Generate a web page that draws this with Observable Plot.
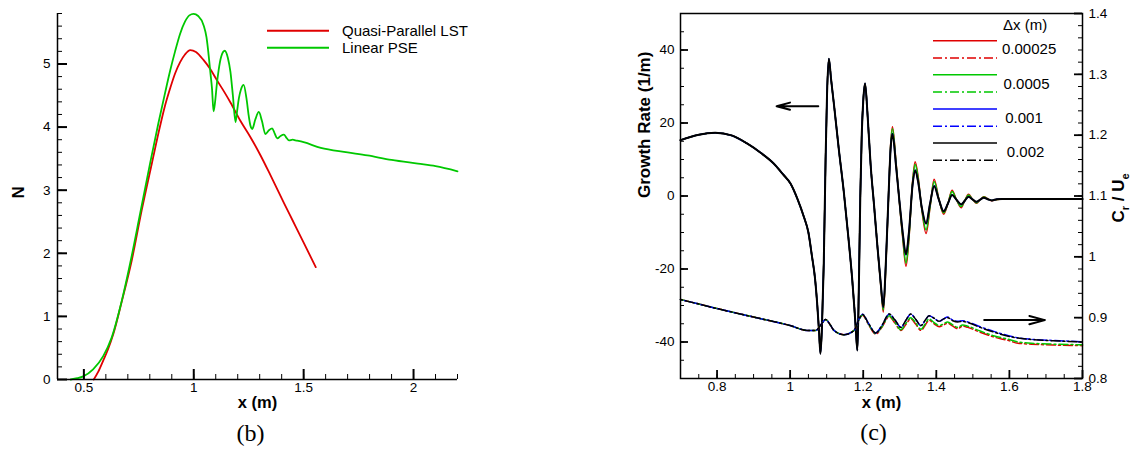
<!DOCTYPE html>
<html><head><meta charset="utf-8">
<script src="https://cdn.jsdelivr.net/npm/d3@7"></script>
<script src="https://cdn.jsdelivr.net/npm/@observablehq/plot@0.6"></script>
<style>
body{margin:0;background:#fff;}
#wrap{position:relative;width:1138px;height:453px;overflow:hidden;font-family:"Liberation Sans",Arial,Helvetica,sans-serif;}
#wrap > svg{position:absolute;top:0;}
.rot{position:absolute;white-space:nowrap;font-weight:bold;font-size:17px;transform:translate(-50%,-50%) rotate(-90deg);}
</style></head><body><div id="wrap"></div>
<script>
// ---------- Panel (b): N factor ----------
const lstX = [0.545, 0.565, 0.588, 0.61, 0.634, 0.672, 0.718, 0.763, 0.809, 0.847,
              0.87, 0.893, 0.915, 0.938, 0.96, 0.984, 1.01, 1.045, 1.075, 1.106,
              1.14, 1.167, 1.212, 1.258, 1.304, 1.35, 1.41, 1.45, 1.5, 1.555];
const lstN = [0, 0.12, 0.30, 0.48, 0.72, 1.23, 1.89, 2.68, 3.42, 4.02,
              4.35, 4.62, 4.85, 5.03, 5.15, 5.22, 5.19, 5.06, 4.92, 4.74,
              4.55, 4.39, 4.10, 3.84, 3.55, 3.23, 2.80, 2.52, 2.17, 1.78];
const pseX = [0.44, 0.47, 0.497, 0.542, 0.588, 0.626, 0.672, 0.71, 0.756, 0.801,
              0.839, 0.87, 0.893, 0.915, 0.938, 0.96, 0.98, 0.999, 1.02, 1.045,
              1.058, 1.068, 1.076, 1.083, 1.09, 1.097, 1.105, 1.113, 1.125, 1.141,
              1.155, 1.167, 1.178, 1.19, 1.197, 1.205, 1.215, 1.227, 1.24, 1.25,
              1.258, 1.266, 1.28, 1.296, 1.31, 1.326, 1.342, 1.357, 1.368, 1.38,
              1.395, 1.41, 1.422, 1.433, 1.45, 1.463, 1.5, 1.578, 1.7, 1.79,
              1.9, 2.02, 2.1, 2.2];
const pseN = [0, 0.02, 0.05, 0.16, 0.37, 0.66, 1.24, 1.83, 2.63, 3.42,
              4.06, 4.55, 4.90, 5.2, 5.48, 5.67, 5.77, 5.795, 5.76, 5.61,
              5.42, 5.13, 4.85, 4.61, 4.25, 4.40, 4.68, 4.9, 5.12, 5.21,
              5.1, 4.87, 4.5, 4.08, 4.25, 4.45, 4.6, 4.67, 4.45, 4.18,
              4.02, 3.97, 4.12, 4.24, 4.1, 3.89, 3.95, 3.98, 3.9, 3.82,
              3.86, 3.88, 3.83, 3.79, 3.8, 3.79, 3.76, 3.67, 3.6, 3.55,
              3.48, 3.42, 3.38, 3.30];
const nSeries = ["Quasi-Parallel LST", "Linear PSE"];
const nXTicks = [0.5, 1, 1.5, 2];
const nXLabels = ["0.5", "1", "1.5", "2"];
const nYTicks = [0, 1, 2, 3, 4, 5];
const nDomainX = [0.38, 2.2];
const nDomainY = [0, 5.8];

// ---------- Panel (c): growth rate and phase speed ----------
const gx = [0.70, 0.75, 0.795, 0.84, 0.882, 0.92, 0.955, 0.98, 1.001, 1.02,
            1.0375, 1.05, 1.06, 1.068, 1.074, 1.079, 1.083, 1.087, 1.092, 1.097,
            1.101, 1.106, 1.112, 1.12, 1.133, 1.147, 1.16, 1.17, 1.176, 1.18,
            1.184, 1.188, 1.192, 1.196, 1.2, 1.205, 1.212, 1.22, 1.23, 1.239,
            1.248, 1.255, 1.262, 1.27, 1.275, 1.28, 1.29, 1.298, 1.308, 1.317,
            1.325, 1.335, 1.342, 1.35, 1.36, 1.372, 1.383, 1.394, 1.407, 1.42,
            1.432, 1.443, 1.455, 1.468, 1.478, 1.488, 1.5, 1.51, 1.52, 1.53,
            1.541, 1.552, 1.565, 1.58, 1.65, 1.8];
const gBlack = [15.3, 16.8, 17.3, 16.6, 14.4, 11.8, 8.9, 6.0, 3.4, -0.8,
            -5.7, -10, -16.7, -22.5, -29.5, -37, -43.2, -36, -18.5, 10,
            28, 37.6, 32, 25, 13, 1, -12, -23, -31, -37,
            -42.3, -25, 0, 17, 26, 30.8, 22, 8.9, -3, -14,
            -24, -30.4, -18, 2, 13, 17, 8, -0.3, -10, -16,
            -10, 3, 7, 4, -3, -7.5, -2, 2.7, -1, -4.2,
            -2, 0.3, -1, -2.3, -1.3, -0.2, -1, -1.6, -1, -0.5,
            -0.9, -1.2, -0.9, -0.8, -0.8, -0.8];
const gBlue = [15.3, 16.8, 17.3, 16.6, 14.4, 11.8, 8.9, 6.0, 3.4, -0.8,
            -5.7, -10, -16.7, -22.5, -29.5, -37, -43.2, -36, -18.5, 10,
            28, 37.6, 32, 25, 13, 1, -12, -23, -31, -37,
            -42.3, -25, 0, 17, 26, 30.8, 22, 8.9, -3, -14,
            -24, -30.5, -18, 2, 13, 17.1, 8, -0.3, -10, -16.1,
            -10, 3, 7.1, 4, -3, -7.6, -2, 2.8, -1, -4.2,
            -2, 0.3, -1, -2.3, -1.3, -0.2, -1, -1.6, -1, -0.5,
            -0.9, -1.2, -0.9, -0.8, -0.8, -0.8];
const gGreen = [15.3, 16.8, 17.3, 16.6, 14.4, 11.8, 8.9, 6.0, 3.4, -0.8,
            -5.7, -10, -16.7, -22.5, -29.5, -37, -43.2, -36, -18.5, 10,
            28, 37.6, 32, 25, 13, 1, -12, -23, -31, -37,
            -42.3, -25, 0, 17, 26, 30.8, 22, 8.9, -3, -14,
            -24.3, -31.2, -18.6, 2, 13.6, 18.4, 8.7, -0.4, -11, -18.4,
            -11.5, 3.6, 8.7, 5, -3.3, -9.3, -2.8, 4.0, -0.9, -4.6,
            -2, 1.2, -1, -2.9, -1.2, 0.3, -1, -1.9, -1, -0.3,
            -0.85, -1.2, -0.95, -0.8, -0.8, -0.85];
const gRed = [15.3, 16.8, 17.3, 16.6, 14.4, 11.8, 8.9, 6.0, 3.4, -0.8,
            -5.7, -10, -16.7, -22.5, -29.5, -37, -43.2, -36, -18.5, 10,
            28, 37.6, 32, 25, 13, 1, -12, -23, -31, -37,
            -42.3, -25, 0, 17, 26, 30.8, 22, 8.9, -3, -14,
            -24.5, -31.8, -19, 2, 14, 19, 9, -0.5, -11.5, -19.3,
            -12, 4, 9.4, 5.5, -3.5, -10.3, -3, 4.6, -0.8, -5,
            -2, 1.6, -1, -3.2, -1.2, 0.5, -1, -2, -1, -0.2,
            -0.8, -1.3, -1.0, -0.8, -0.8, -0.9];
const cx = [0.70, 0.80, 0.90, 1.00, 1.047, 1.07, 1.085, 1.097, 1.11, 1.12,
            1.147, 1.175, 1.188, 1.198, 1.215, 1.234, 1.252, 1.271, 1.287, 1.303,
            1.317, 1.33, 1.344, 1.358, 1.37, 1.38, 1.394, 1.408, 1.42, 1.431,
            1.445, 1.459, 1.472, 1.486, 1.52, 1.559, 1.6, 1.623, 1.66, 1.72,
            1.8];
const crBlack = [0.930, 0.915, 0.901, 0.887, 0.879, 0.879, 0.889, 0.897, 0.888, 0.879,
            0.872, 0.879, 0.897, 0.9055, 0.89, 0.875, 0.888, 0.906, 0.896, 0.884,
            0.896, 0.906, 0.897, 0.887, 0.896, 0.903, 0.899, 0.894, 0.898, 0.900,
            0.895, 0.893, 0.894, 0.892, 0.884, 0.876, 0.869, 0.8665, 0.864, 0.862,
            0.860];
const crBlue = [0.930, 0.915, 0.901, 0.887, 0.879, 0.879, 0.889, 0.897, 0.888, 0.879,
            0.872, 0.879, 0.897, 0.9055, 0.89, 0.875, 0.888, 0.906, 0.896, 0.884,
            0.896, 0.906, 0.897, 0.887, 0.896, 0.903, 0.899, 0.894, 0.898, 0.901,
            0.896, 0.894, 0.895, 0.893, 0.885, 0.877, 0.870, 0.867, 0.8645, 0.8625,
            0.8605];
const crGreen = [0.930, 0.915, 0.901, 0.887, 0.879, 0.879, 0.889, 0.897, 0.888, 0.879,
            0.872, 0.879, 0.896, 0.9045, 0.889, 0.874, 0.886, 0.903, 0.892, 0.880,
            0.891, 0.900, 0.891, 0.881, 0.890, 0.898, 0.892, 0.887, 0.890, 0.893,
            0.888, 0.884, 0.888, 0.886, 0.878, 0.870, 0.864, 0.860, 0.858, 0.8565,
            0.8555];
const crRed = [0.930, 0.915, 0.901, 0.887, 0.879, 0.879, 0.889, 0.897, 0.888, 0.879,
            0.872, 0.879, 0.896, 0.904, 0.888, 0.873, 0.885, 0.902, 0.891, 0.879,
            0.889, 0.898, 0.889, 0.879, 0.888, 0.896, 0.890, 0.885, 0.888, 0.891,
            0.886, 0.882, 0.886, 0.884, 0.876, 0.868, 0.862, 0.858, 0.8565, 0.855,
            0.854];
const dxLabels = ["0.00025", "0.0005", "0.001", "0.002"];
const gXTicks = [0.8, 1, 1.2, 1.4, 1.6, 1.8];
const gXLabels = ["0.8", "1", "1.2", "1.4", "1.6", "1.8"];
const gYTicks = [-40, -20, 0, 20, 40];
const gYLabels = ["-40", "-20", "0", "20", "40"];
const crTicks = [0.8, 0.9, 1.0, 1.1, 1.2, 1.3, 1.4];
const crLabels = ["0.8", "0.9", "1", "1.1", "1.2", "1.3", "1.4"];
const gDomainX = [0.7, 1.8];
const gDomainY = [-50, 50];
const crDomain = [0.8, 1.4];
const arrows = [
  {x1: 1.077, y1: 24.6, x2: 0.963, y2: 24.6},
  {x1: 1.531, y1: -34.0, x2: 1.697, y2: -34.0}
];

// ---------- styles ----------
const FONT = '"Liberation Sans", Arial, Helvetica, sans-serif';
const SERIF = '"Liberation Serif", "Times New Roman", serif';
const RED = "#e00000", GREEN = "#00c800", BLUE = "#0000ff", BLACK = "#000000";
const DASH = "9,3,2,3";
const toG = cr => gDomainY[0] + (cr - crDomain[0]) / (crDomain[1] - crDomain[0]) * (gDomainY[1] - gDomainY[0]);
const lab = (ticks, labels) => v => labels[ticks.findIndex(t => Math.abs(t - v) < 1e-6)];

const wrap = document.getElementById("wrap");

// ---------- Legends (drawn first, underneath the plots) ----------
const ov = d3.select(wrap).append("svg")
  .attr("width", 1138).attr("height", 453)
  .style("left", "0px").style("pointer-events", "none")
  .style("font-family", FONT);
const lgB = [RED, GREEN];
nSeries.forEach((name, i) => {
  const y = 30.7 + i * 17;
  ov.append("line").attr("x1", 267).attr("x2", 329).attr("y1", y).attr("y2", y)
    .attr("stroke", lgB[i]).attr("stroke-width", 2);
  ov.append("text").attr("x", 342).attr("y", y).attr("dy", "0.35em")
    .attr("font-size", 15).text(name);
});
ov.append("text").attr("x", 1003).attr("y", 25).attr("dy", "0.35em").attr("font-size", 15).text("\u0394x (m)");
const lgC = [RED, GREEN, BLUE, BLACK];
dxLabels.forEach((name, i) => {
  const y = 40.7 + i * 34.1;
  ov.append("line").attr("x1", 933).attr("x2", 997).attr("y1", y).attr("y2", y)
    .attr("stroke", lgC[i]).attr("stroke-width", 1.5);
  ov.append("line").attr("x1", 933).attr("x2", 997).attr("y1", y + 17.3).attr("y2", y + 17.3)
    .attr("stroke", lgC[i]).attr("stroke-width", 1.5).attr("stroke-dasharray", DASH);
  ov.append("text").attr("x", 1002 + i * 1.6).attr("y", y + 8.5).attr("dy", "0.35em")
    .attr("font-size", 15).text(name);
});

// inward tick helpers built from rules; tick length converted from pixels to data units
function tickMarks(dom, W, H) {
  const [x0, x1] = dom.x, [y0, y1] = dom.y;
  const ux = (x1 - x0) / W, uy = (y1 - y0) / H;
  return {
    bottom: (vals, len, sw) => Plot.ruleX(vals, {x: d => d, y1: y0, y2: y0 + len * uy, stroke: BLACK, strokeWidth: sw}),
    left: (vals, len, sw) => Plot.ruleY(vals, {y: d => d, x1: x0, x2: x0 + len * ux, stroke: BLACK, strokeWidth: sw}),
    right: (vals, len, sw) => Plot.ruleY(vals, {y: d => d, x1: x1 - len * ux, x2: x1, stroke: BLACK, strokeWidth: sw})
  };
}

// ---------- Left plot ----------
const PL = {width: 580, height: 453, ml: 57, mr: 123, mt: 13, mb: 74};
const LW = PL.width - PL.ml - PL.mr, LH = PL.height - PL.mt - PL.mb;
const tL = tickMarks({x: nDomainX, y: nDomainY}, LW, LH);
const nXMinor = d3.range(5, 23).map(d => d / 10);
const nYMinor = d3.range(0, 30).map(d => d / 5);
const chartB = Plot.plot({
  width: PL.width, height: PL.height,
  marginLeft: PL.ml, marginRight: PL.mr, marginTop: PL.mt, marginBottom: PL.mb,
  style: {fontFamily: FONT, fontSize: "13.5px", background: "transparent", overflow: "visible"},
  x: {domain: nDomainX},
  y: {domain: nDomainY},
  marks: [
    Plot.line(lstN, {x: lstX, y: lstN, stroke: RED, strokeWidth: 1.8, curve: "monotone-x"}),
    Plot.line(pseN, {x: pseX, y: pseN, stroke: GREEN, strokeWidth: 1.8, curve: "monotone-x"}),
    tL.bottom(nXMinor, 5, 1),
    tL.bottom(nXTicks, 10, 2),
    tL.left(nYMinor, 5, 1),
    tL.left(nYTicks, 10, 2),
    Plot.axisX(nXTicks, {anchor: "bottom", tickSize: 0, tickPadding: 3, tickFormat: lab(nXTicks, nXLabels), label: null}),
    Plot.axisY(nYTicks, {anchor: "left", tickSize: 0, tickPadding: 7, tickFormat: d => String(d), label: null}),
    Plot.ruleY([nDomainY[0]], {stroke: BLACK, strokeWidth: 1.5}),
    Plot.ruleX([nDomainX[0]], {stroke: BLACK, strokeWidth: 1.5}),
    Plot.text(["N"], {frameAnchor: "left", dx: -39, dy: 2, rotate: -90, fontWeight: "bold", fontSize: 17}),
    Plot.text(["x (m)"], {frameAnchor: "bottom", dy: 28, fontWeight: "bold", fontSize: 16.5}),
    Plot.text(["(b)"], {frameAnchor: "bottom", dy: 61, dx: -7, fontFamily: SERIF, fontSize: 24})
  ]
});
chartB.style.left = "0px";
wrap.appendChild(chartB);

// ---------- Right plot ----------
const PR = {width: 558, height: 453, ml: 100, mr: 56, mt: 13, mb: 75};
const RW = PR.width - PR.ml - PR.mr, RH = PR.height - PR.mt - PR.mb;
const tR = tickMarks({x: gDomainX, y: gDomainY}, RW, RH);
const gXMinor = d3.range(15, 37).map(d => d / 20);
const gYMinor = d3.range(-9, 10).map(d => d * 5);
const crMinor = d3.range(41, 70).map(d => toG(d / 50));
const crMajorG = crTicks.map(toG);

const series = [
  {g: gRed, cr: crRed, color: RED, w: 1.5, off: 0},
  {g: gGreen, cr: crGreen, color: GREEN, w: 1.5, off: 4},
  {g: gBlue, cr: crBlue, color: BLUE, w: 1.5, off: 8},
  {g: gBlack, cr: crBlack, color: BLACK, w: 2, off: 12}
];
const lineMarks = [];
for (const s of series) {
  lineMarks.push(Plot.line(s.g, {x: gx, y: s.g, stroke: s.color, strokeWidth: s.w, curve: "monotone-x"}));
}
for (const s of series) {
  const crG = s.cr.map(toG);
  lineMarks.push(Plot.line(crG, {x: cx, y: crG, stroke: s.color, strokeWidth: 1.5, strokeDasharray: DASH, strokeDashoffset: s.off, curve: "monotone-x"}));
}

const chartC = Plot.plot({
  width: PR.width, height: PR.height,
  marginLeft: PR.ml, marginRight: PR.mr, marginTop: PR.mt, marginBottom: PR.mb,
  style: {fontFamily: FONT, fontSize: "13.5px", background: "transparent", overflow: "visible"},
  x: {domain: gDomainX},
  y: {domain: gDomainY},
  marks: [
    ...lineMarks,
    tR.bottom(gXMinor, 4, 1),
    tR.bottom(gXTicks, 8, 1.8),
    tR.left(gYMinor, 4, 1),
    tR.left(gYTicks, 8, 1.8),
    tR.right(crMinor, 4, 1),
    tR.right(crMajorG, 8, 1.8),
    Plot.axisX(gXTicks, {anchor: "bottom", tickSize: 0, tickPadding: 3, tickFormat: lab(gXTicks, gXLabels), label: null}),
    Plot.axisY(gYTicks, {anchor: "left", tickSize: 0, tickPadding: 6, tickFormat: lab(gYTicks, gYLabels), label: null}),
    Plot.axisY(crMajorG, {anchor: "right", tickSize: 0, tickPadding: 6, tickFormat: lab(crMajorG, crLabels), label: null}),
    Plot.arrow(arrows, {x1: "x1", y1: "y1", x2: "x2", y2: "y2", stroke: BLACK, strokeWidth: 2, headLength: 12, headAngle: 30}),
    Plot.frame({stroke: BLACK, strokeWidth: 1.5}),
    Plot.text(["Growth Rate (1/m)"], {frameAnchor: "left", dx: -36, dy: 2, rotate: -90, fontWeight: "bold", fontSize: 17}),
    Plot.text(["x (m)"], {frameAnchor: "bottom", dy: 29, fontWeight: "bold", fontSize: 16.5}),
    Plot.text(["(c)"], {frameAnchor: "bottom", dy: 61, dx: -8, fontFamily: SERIF, fontSize: 24})
  ]
});
chartC.style.left = "580px";
wrap.appendChild(chartC);

// right-axis title with subscripts
const crTitle = document.createElement("div");
crTitle.className = "rot";
crTitle.style.left = "1120px";
crTitle.style.top = "198px";
crTitle.innerHTML = "C<sub style='font-size:11px'>r</sub> / U<sub style='font-size:11px'>e</sub>";
wrap.appendChild(crTitle);
</script>
</body></html>
